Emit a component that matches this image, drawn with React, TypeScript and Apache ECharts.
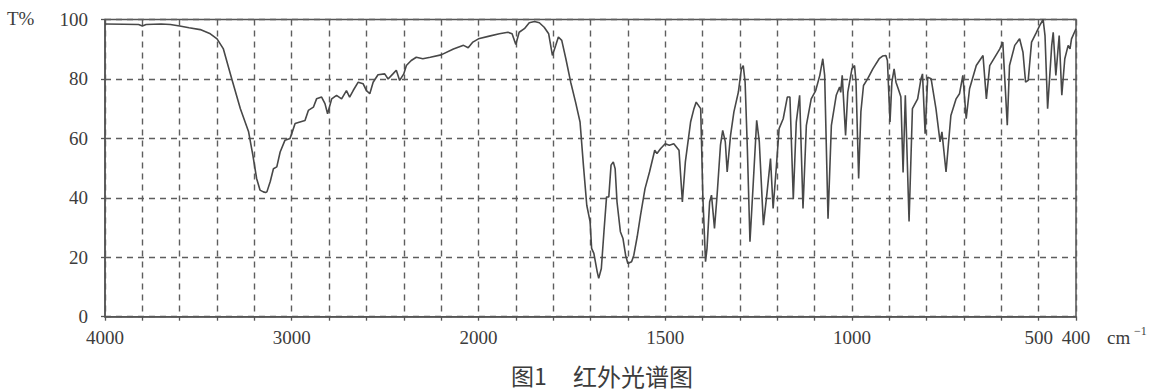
import React, { useEffect, useRef } from "react";
import * as echarts from "echarts";

// Infrared spectrum: wavenumber (cm^-1) and transmittance (T%)
const wavenumbers = [
  4000, 3900, 3820, 3800, 3780, 3700, 3650, 3600, 3550, 3490, 3436, 3400, 3366, 3321, 3275, 3231, 3208, 3188, 3170, 3152,
  3140, 3133, 3115, 3098, 3080, 3062, 3036, 3009, 3000, 2982, 2956, 2929, 2911, 2884, 2867, 2840, 2822, 2808, 2786, 2760,
  2733, 2707, 2690, 2671, 2644, 2618, 2600, 2582, 2564, 2538, 2502, 2484, 2458, 2440, 2422, 2400, 2386, 2360, 2333, 2298,
  2258, 2200, 2134, 2080, 2055, 2030, 2000, 1971, 1944, 1921, 1910, 1900, 1891, 1877, 1864, 1850, 1837, 1824, 1812, 1802,
  1793, 1786, 1777, 1766, 1753, 1740, 1728, 1719, 1710, 1701, 1697, 1691, 1682, 1678, 1671, 1664, 1657, 1651, 1645, 1639,
  1634, 1629, 1620, 1613, 1606, 1600, 1590, 1584, 1575, 1566, 1554, 1542, 1528, 1522, 1512, 1500, 1489, 1477, 1463, 1454,
  1446, 1432, 1423, 1417, 1405, 1399, 1392, 1388, 1381, 1376, 1368, 1361, 1352, 1346, 1339, 1334, 1325, 1316, 1304, 1296,
  1291, 1286, 1280, 1273, 1264, 1255, 1248, 1237, 1228, 1218, 1211, 1202, 1195, 1184, 1173, 1166, 1157, 1149, 1140, 1131,
  1122, 1109, 1097, 1086, 1078, 1073, 1064, 1055, 1042, 1033, 1030, 1026, 1017, 1011, 1000, 993, 989, 982, 976, 969,
  958, 944, 927, 918, 909, 905, 898, 893, 887, 882, 876, 869, 863, 857, 847, 838, 824, 815, 811, 804,
  797, 788, 775, 764, 759, 748, 735, 721, 712, 703, 694, 685, 667, 649, 640, 631, 604, 596, 584, 578,
  564, 551, 542, 535, 528, 519, 506, 497, 488, 483, 476, 465, 461, 454, 445, 438, 430, 421, 416, 412,
  400,
];
const transmittance = [
  98.5, 98.4, 98.3, 97.8, 98.3, 98.5, 98.3, 97.8, 97.2, 96.6, 95.2, 93.5, 90.1, 80, 70, 62.2, 54.3, 46.5, 42.6, 42,
  41.8, 42, 45.5, 49.8, 50.4, 55.4, 59.4, 60, 61.6, 65, 65.5, 66, 69.4, 70.5, 73.3, 73.9, 71.7, 68.3, 73.3, 74.5,
  73.3, 76.1, 73.9, 76.1, 78.9, 78.4, 76.1, 75, 78.9, 81.4, 81.7, 80, 81.7, 82.9, 79.5, 81.7, 84.5, 86.2, 87.3, 86.8,
  87.3, 88.1, 90.1, 91.3, 90.5, 92.4, 93.5, 94.4, 95.2, 95.7, 95.2, 91.6, 95.7, 96.9, 98.9, 99.3, 98.9, 97.4, 95.2, 87.9,
  91.3, 94.1, 93, 86.8, 78.9, 72.2, 65.5, 51, 37.5, 31.9, 23, 21.3, 15.1, 12.9, 16.2, 28.6, 40.3, 40.3, 51, 52.1,
  49.8, 38.6, 28.6, 26.3, 20.7, 17.9, 18.5, 20.7, 26.9, 34.2, 43.1, 48.7, 56, 54.9, 56.6, 58.2, 57.7, 58.2, 56, 38.6,
  52.1, 65.5, 70, 72.2, 70, 39.8, 18.5, 23, 38.6, 40.9, 29.7, 40.9, 57.7, 62.7, 58.8, 48.7, 61, 68.9, 75.6, 83.4,
  84.5, 78.9, 56.6, 25.2, 45.4, 66.1, 58.8, 30.8, 40.9, 53.2, 36.4, 51, 63.3, 66.6, 73.9, 73.9, 39.5, 65.5, 74.5, 36.4,
  64.4, 73.3, 76.1, 81.2, 86.8, 81.2, 33, 64.4, 74.5, 77.3, 75.5, 81.2, 61, 75.6, 83.4, 84.5, 78.9, 46.5, 68.9, 77.8,
  80, 83.4, 86.8, 87.7, 87.9, 86.2, 65.5, 78.9, 83.4, 78.9, 76.7, 74, 48.5, 74.5, 32, 70, 73.3, 80.1, 81.7, 61.6,
  80.6, 80.1, 70, 58.8, 62.2, 48.7, 67.7, 73.3, 75, 81.2, 66.6, 76.7, 84.5, 87.9, 73.3, 84.5, 90.1, 92.4, 64.4, 84.5,
  91.3, 93.5, 89, 78.9, 79.5, 92.4, 95.7, 98, 100, 94.6, 70, 91.3, 95.7, 81.2, 94.6, 74.5, 86.8, 91.3, 90.1, 93.5,
  96.9,
];
const xLabelWavenumbers = [4000, 3000, 2000, 1500, 1000, 500, 400];
const yTicks = [0, 20, 40, 60, 80, 100];

// Scale break at 2000 cm^-1: 200 cm^-1 per division above, 100 cm^-1 per division below
const toAxis = (w: number) => (w >= 2000 ? (4000 - w) / 200 : 10 + (2000 - w) / 100);
const fromAxis = (u: number) => Math.round(u <= 10 ? 4000 - 200 * u : 2000 - 100 * (u - 10));

const serif = "Liberation Serif";
const cjk = "Noto Sans CJK SC";
const textColor = "#3c3c3c";
const frame = "#555555";

export default function App() {
  const ref = useRef<HTMLDivElement>(null);
  useEffect(() => {
    if (!ref.current) return;
    const chart = echarts.init(ref.current, undefined, { renderer: "svg" });
    const data = wavenumbers.map((w, i) => [toAxis(w), transmittance[i]]);
    const labelRich = { s: { fontFamily: serif, fontSize: 19, color: textColor } };
    chart.setOption({
      animation: false,
      backgroundColor: "#ffffff",
      textStyle: { fontFamily: serif },
      grid: {
        left: 105,
        right: 80,
        top: 19.5,
        bottom: 75.3,
        show: true,
        borderColor: frame,
        borderWidth: 1.5,
        containLabel: false,
      },
      xAxis: {
        type: "value",
        min: 0,
        max: toAxis(400),
        interval: 1,
        axisLine: { show: true, lineStyle: { color: frame, width: 1.5 } },
        axisTick: { show: true, length: 4, lineStyle: { color: frame, width: 1.3 } },
        splitLine: { show: true, lineStyle: { color: "#5e5e5e", type: [6, 5], width: 1.4 } },
        axisLabel: {
          margin: 11,
          fontSize: 19,
          fontFamily: serif,
          color: textColor,
          showMinLabel: true,
          showMaxLabel: true,
          rich: labelRich,
          formatter: (v: number) => {
            const w = fromAxis(v);
            return xLabelWavenumbers.includes(w) ? `{s|${w}}` : "";
          },
        },
      },
      yAxis: {
        type: "value",
        min: yTicks[0],
        max: yTicks[yTicks.length - 1],
        interval: 20,
        axisLine: { show: true, lineStyle: { color: frame, width: 1.5 } },
        axisTick: { show: true, length: 4, lineStyle: { color: frame, width: 1.3 } },
        splitLine: { show: true, lineStyle: { color: "#5e5e5e", type: [6, 5], width: 1.4 } },
        axisLabel: {
          margin: 17,
          fontSize: 19,
          fontFamily: serif,
          color: textColor,
          rich: labelRich,
          formatter: (v: number) => `{s|${v}}`,
        },
      },
      graphic: [
        { type: "text", left: 7, top: 9, style: { text: "T%", fontSize: 19, fontFamily: serif, fill: textColor } },
        { type: "text", left: 1107, top: 328, style: { text: "cm", fontSize: 19, fontFamily: serif, fill: textColor } },
        { type: "text", left: 1134, top: 325, style: { text: "−1", fontSize: 12, fontFamily: serif, fill: textColor } },
        { type: "text", left: 511, top: 363, style: { text: "图1", fontSize: 23, fontFamily: cjk, fill: textColor } },
        { type: "text", left: 573, top: 363, style: { text: "红外光谱图", fontSize: 24, fontFamily: cjk, fill: textColor } },
      ],
      series: [
        {
          type: "line",
          data,
          showSymbol: false,
          smooth: false,
          clip: true,
          lineStyle: { color: "#484848", width: 1.6 },
        },
      ],
    });
    return () => chart.dispose();
  }, []);
  return <div ref={ref} style={{ position: "absolute", left: 0, top: 0, width: 1156, height: 392 }} />;
}
